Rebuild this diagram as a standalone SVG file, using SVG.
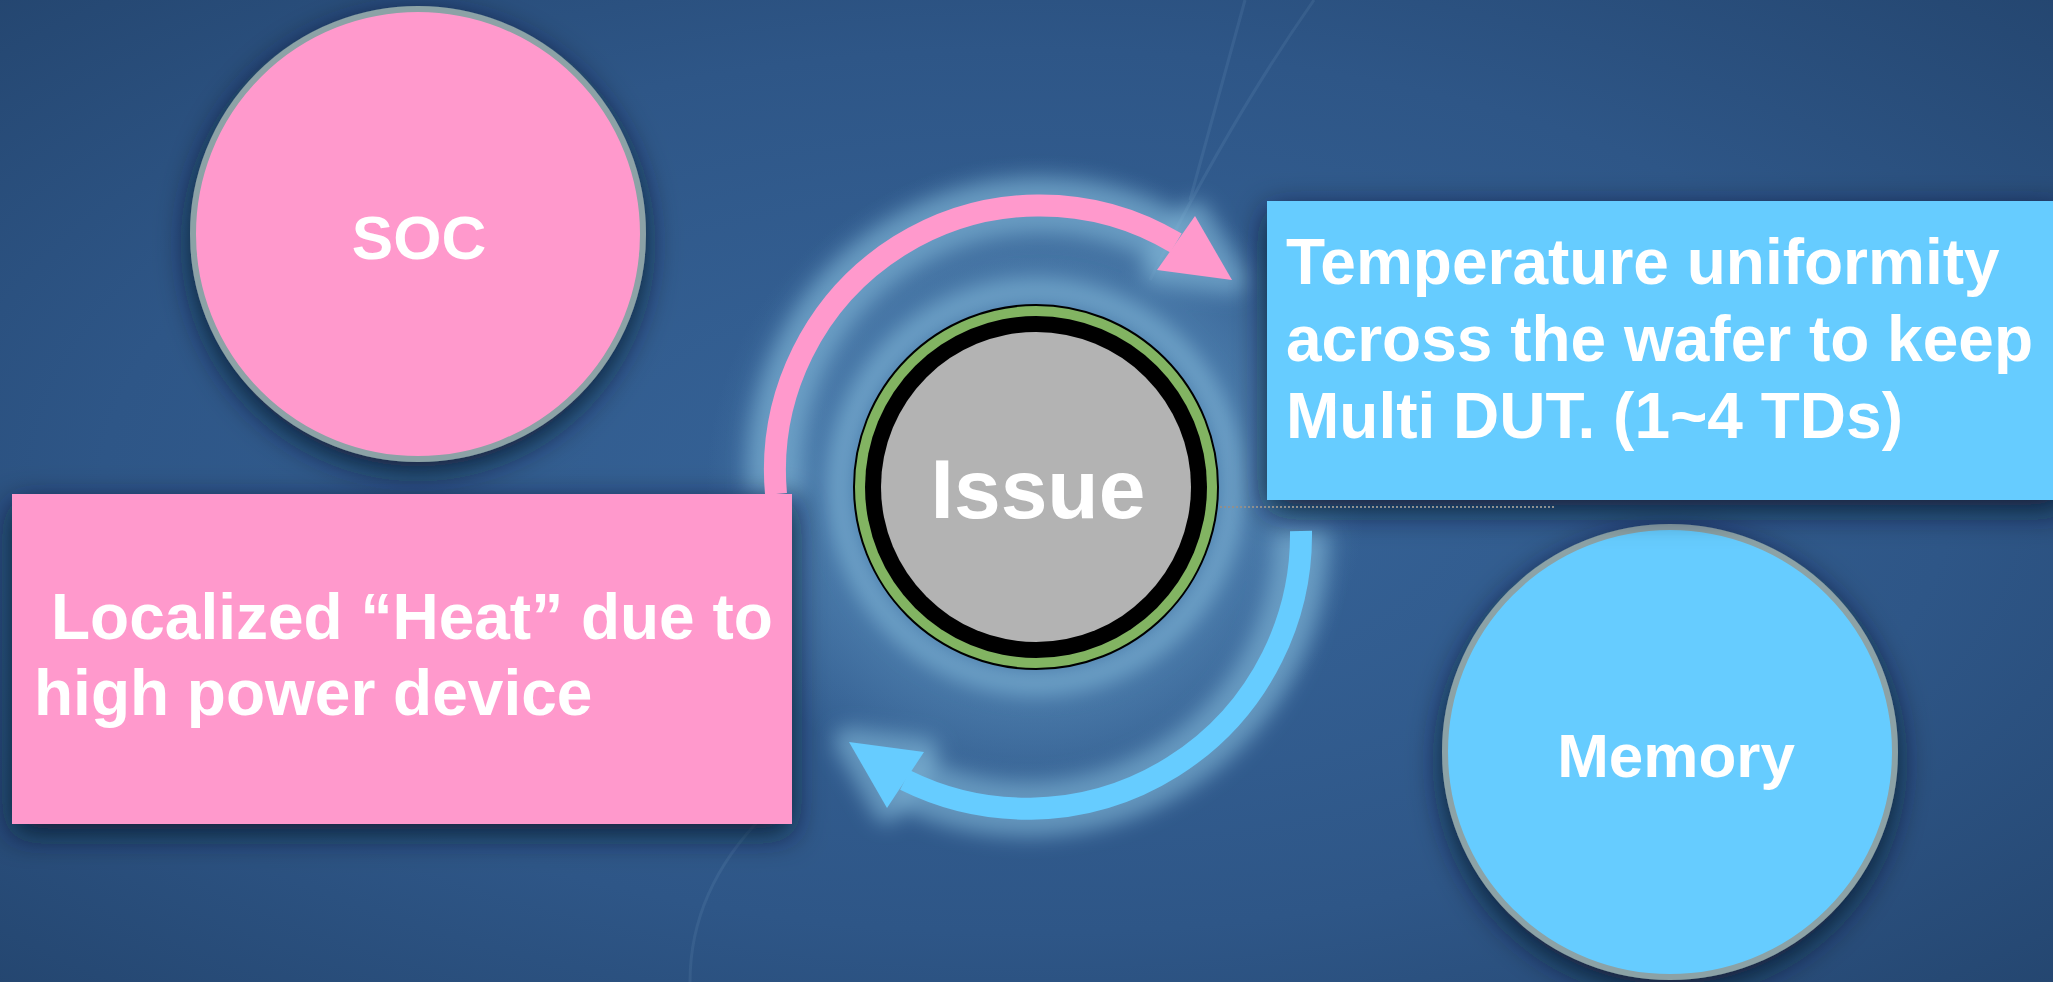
<svg xmlns="http://www.w3.org/2000/svg" width="2053" height="982" viewBox="0 0 2053 982">
<defs>
<radialGradient id="bg" cx="0.5" cy="0.5" r="0.75">
<stop offset="0" stop-color="#37659a"/>
<stop offset="0.6" stop-color="#2e5687"/>
<stop offset="1" stop-color="#23446d"/>
</radialGradient>
<radialGradient id="centerGlow" cx="0.5" cy="0.5" r="0.5">
<stop offset="0" stop-color="#5b8fbb" stop-opacity="0.7"/>
<stop offset="0.7" stop-color="#5b8fbb" stop-opacity="0.45"/>
<stop offset="1" stop-color="#5b8fbb" stop-opacity="0"/>
</radialGradient>
<filter id="shadow" x="-20%" y="-20%" width="140%" height="140%">
<feGaussianBlur in="SourceAlpha" stdDeviation="16"/>
<feOffset dy="10" result="b"/>
<feFlood flood-color="#0c1729" flood-opacity="0.85"/>
<feComposite in2="b" operator="in"/>
<feMerge><feMergeNode/><feMergeNode in="SourceGraphic"/></feMerge>
</filter>
<filter id="blur" x="-30%" y="-30%" width="160%" height="160%">
<feGaussianBlur stdDeviation="10"/>
</filter>
<style>
.lbl{font-family:"Liberation Sans",Arial,sans-serif;font-weight:bold;fill:#ffffff;}
.circ{stroke:#8ca2a6;stroke-width:6;}
.glow{fill:none;stroke:#86bcdc;opacity:0.6;}
</style>
</defs>

<rect x="0" y="0" width="2053" height="982" fill="url(#bg)"/>
<g opacity="0.1" fill="none" stroke="#9cc4e6" stroke-width="3">
<path d="M1314 0 Q1230 120 1150 280"/>
<path d="M1245 0 Q1215 110 1190 200"/>
<path d="M690 982 Q690 880 780 800"/>
</g>

<circle cx="1036" cy="487" r="330" fill="url(#centerGlow)"/>

<g id="glow" filter="url(#blur)">
<path class="glow" stroke-width="56" d="M776 494 A265 265 0 0 1 1176 243"/>
<polygon points="1195,216 1157,270 1232,280" fill="#86bcdc" opacity="0.6" stroke="#86bcdc" stroke-width="30" stroke-linejoin="round"/>
<path class="glow" stroke-width="56" d="M1301 531 A274 274 0 0 1 905 780"/>
<polygon points="849,742 924,752 887,808" fill="#86bcdc" opacity="0.6" stroke="#86bcdc" stroke-width="30" stroke-linejoin="round"/>
<circle cx="1036" cy="487" r="196" fill="none" stroke="#86bcdc" stroke-width="26" opacity="0.6"/>
</g>

<g id="soc" filter="url(#shadow)">
<circle class="circ" cx="418" cy="234" r="225" fill="#ff99cc"/>
<text class="lbl" x="419" y="259" font-size="62" text-anchor="middle">SOC</text>
</g>

<g id="memory" filter="url(#shadow)">
<circle class="circ" cx="1670" cy="752" r="225" fill="#66ccff"/>
<text class="lbl" x="1676" y="777" font-size="62" text-anchor="middle">Memory</text>
</g>

<g id="heat" filter="url(#shadow)">
<rect x="12" y="494" width="780" height="330" fill="#ff99cc"/>
<text class="lbl" font-size="64"><tspan x="51" y="639">Localized “Heat” due to</tspan><tspan x="34" y="715">high power device</tspan></text>
</g>

<g id="uniformity" filter="url(#shadow)">
<rect x="1267" y="201" width="800" height="299" fill="#66ccff"/>
<text class="lbl" font-size="64"><tspan x="1286" y="284">Temperature uniformity</tspan><tspan x="1286" y="361">across the wafer to keep</tspan><tspan x="1286" y="438">Multi DUT. (1~4 TDs)</tspan></text>
</g>

<g id="connectors">
<path d="M776 494 A265 265 0 0 1 1176 243" fill="none" stroke="#ff99cc" stroke-width="22"/>
<polygon points="1195,216 1157,270 1232,280" fill="#ff99cc"/>
<path d="M1301 531 A274 274 0 0 1 905 780" fill="none" stroke="#66ccff" stroke-width="22"/>
<polygon points="849,742 924,752 887,808" fill="#66ccff"/>
<line x1="1220" y1="507" x2="1556" y2="507" stroke="#8f8f8f" stroke-width="2" stroke-dasharray="2 2"/>
</g>

<g id="issue">
<circle cx="1036" cy="487" r="182" fill="#82b462" stroke="#000000" stroke-width="2"/>
<circle cx="1036" cy="487" r="171" fill="#000000"/>
<circle cx="1036" cy="487" r="155" fill="#b3b3b3"/>
<text class="lbl" x="1038" y="518" font-size="84" text-anchor="middle">Issue</text>
</g>
</svg>
